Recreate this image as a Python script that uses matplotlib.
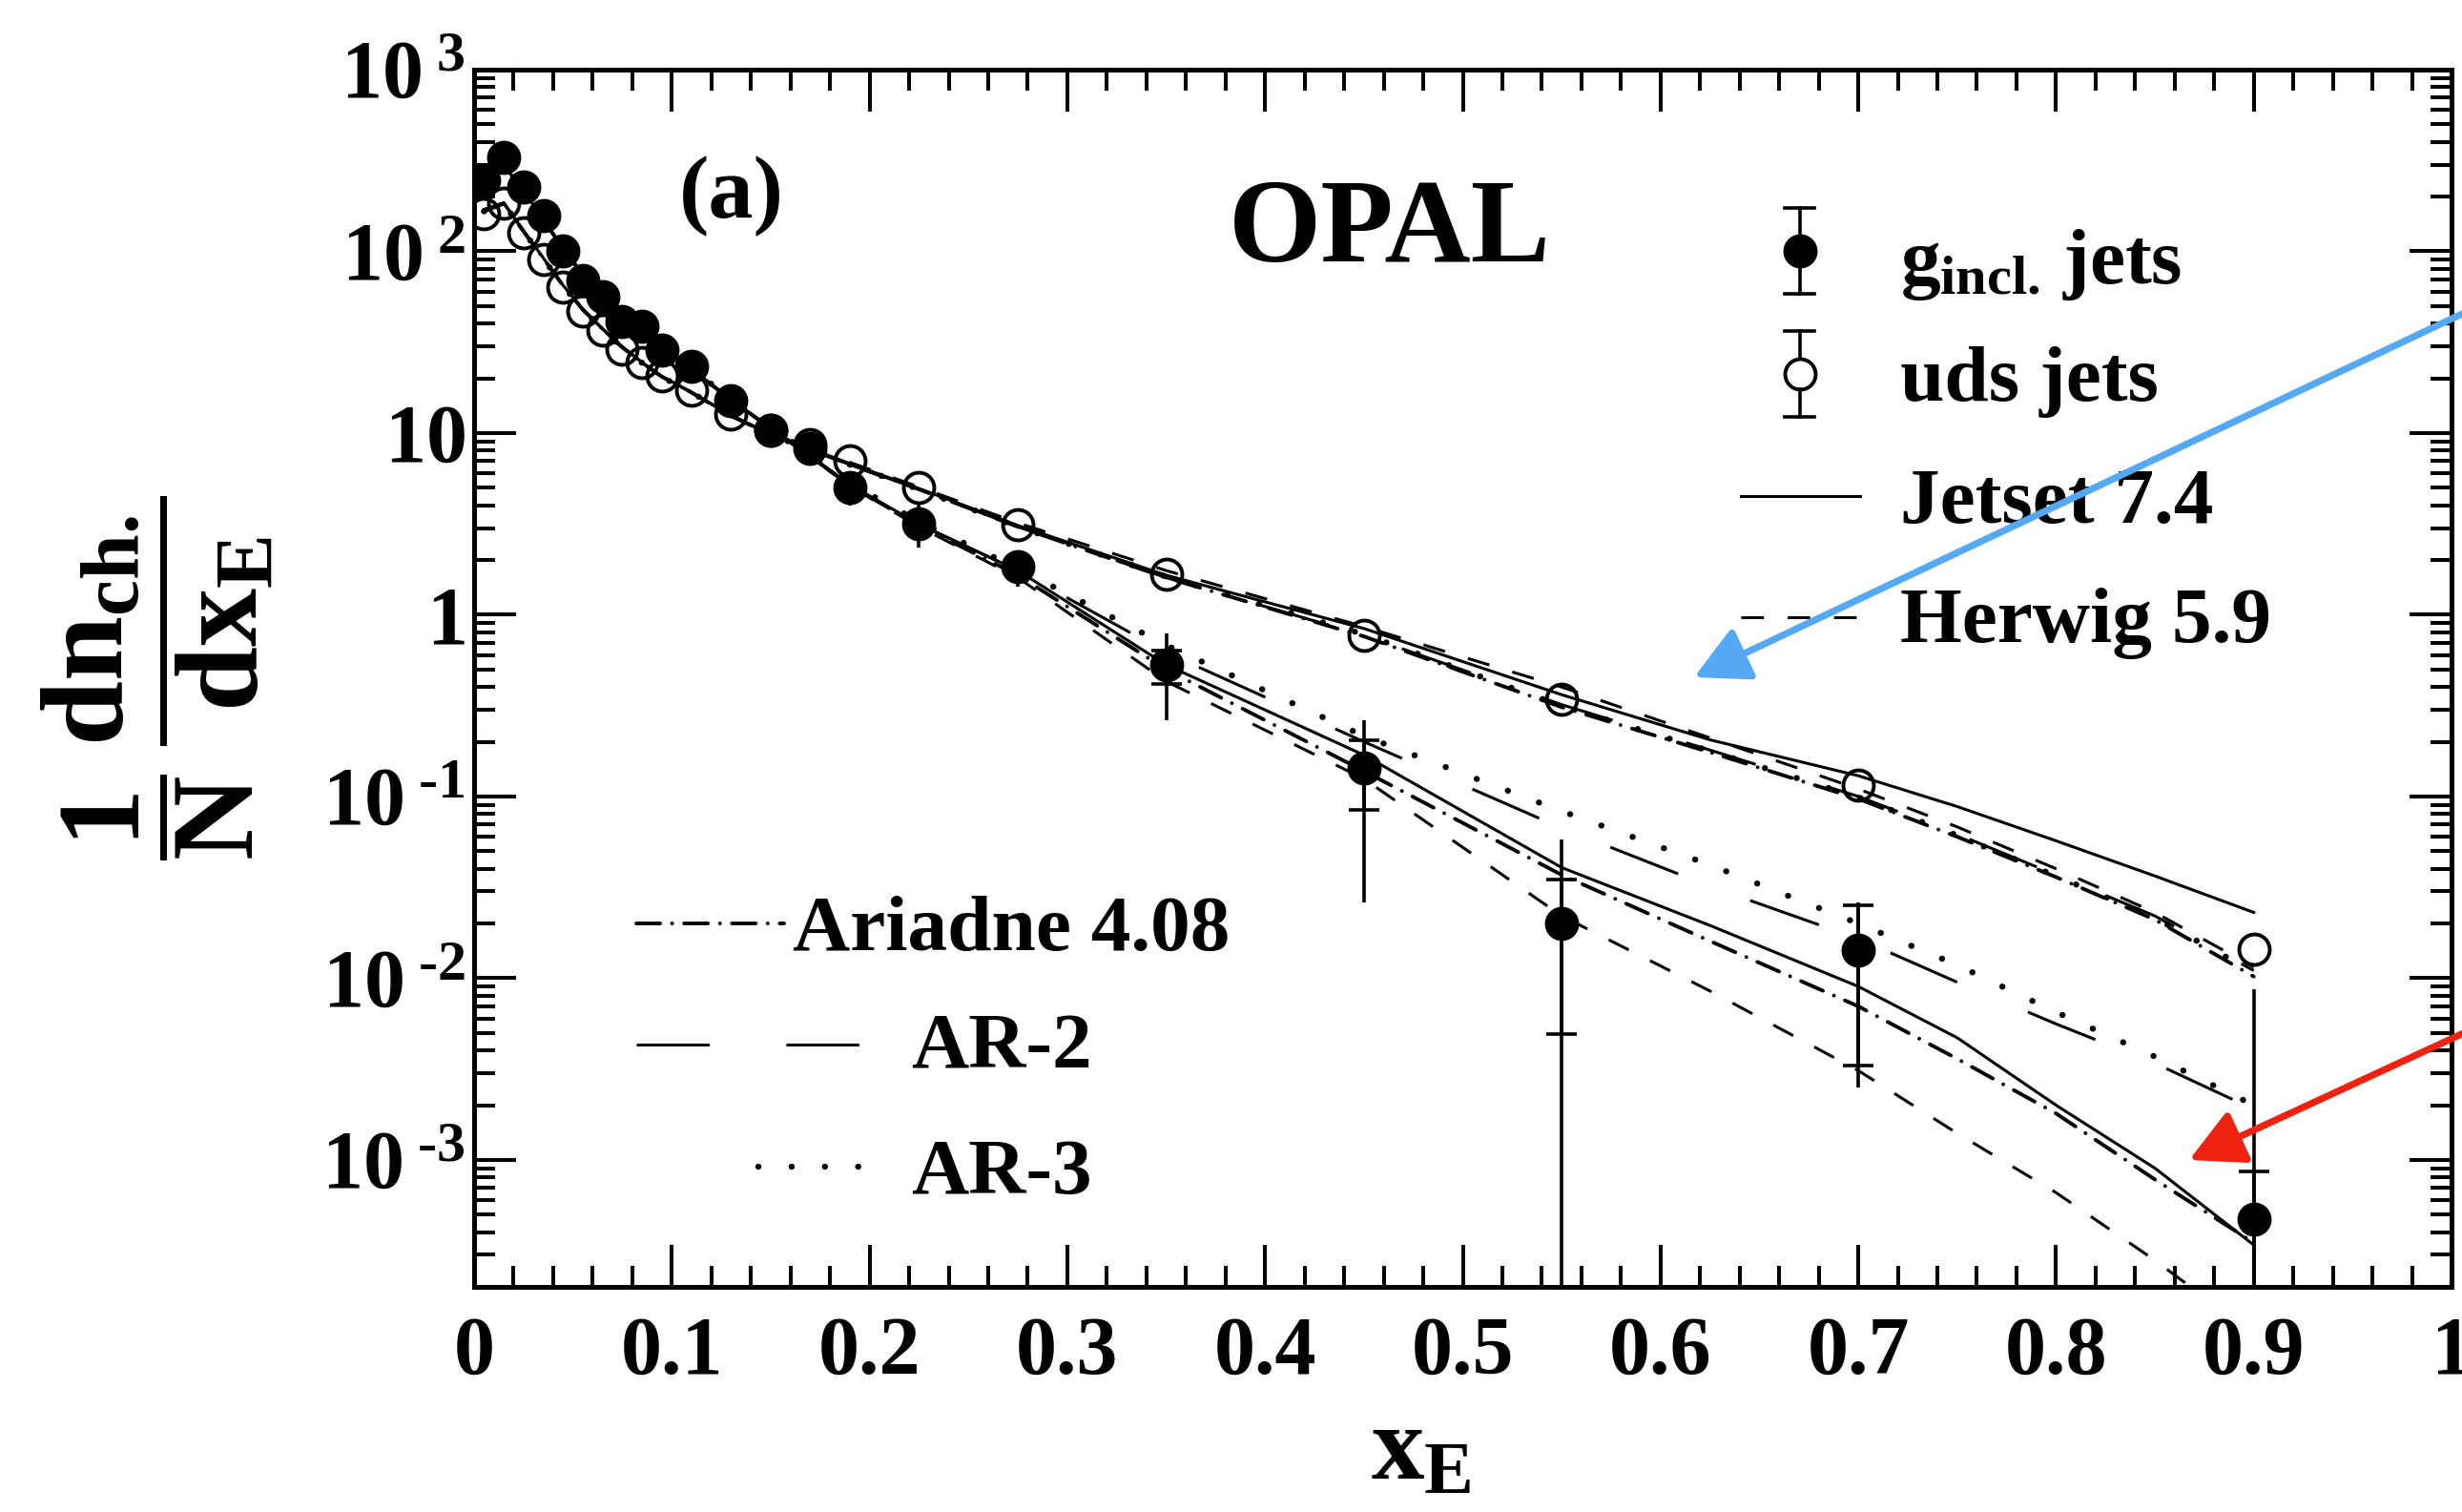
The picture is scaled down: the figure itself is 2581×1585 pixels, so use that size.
import matplotlib
matplotlib.use("Agg")
import matplotlib.pyplot as plt
import numpy as np
from matplotlib.ticker import MultipleLocator, LogLocator, FixedLocator, FuncFormatter, NullFormatter
from matplotlib.patches import FancyArrowPatch

plt.rcParams['font.family'] = ['Liberation Serif', 'DejaVu Serif']
plt.rcParams['font.weight'] = 'bold'
plt.rcParams['mathtext.fontset'] = 'custom'
plt.rcParams['mathtext.rm'] = 'Liberation Serif:bold'
plt.rcParams['mathtext.bf'] = 'Liberation Serif:bold'
plt.rcParams['mathtext.it'] = 'Liberation Serif:bold'
plt.rcParams['mathtext.sf'] = 'Liberation Serif:bold'
plt.rcParams['lines.scale_dashes'] = False

# ---------------- data ----------------
x_data = [0.005, 0.015, 0.025, 0.035, 0.045, 0.055, 0.065, 0.075, 0.085, 0.095,
          0.11, 0.13, 0.15, 0.17, 0.19, 0.225, 0.275, 0.35, 0.45, 0.55, 0.70, 0.90]

g_y = [247, 330, 225, 157, 100, 69.5, 56, 41.3, 38.9, 28.7,
       23.4, 15.0, 10.4, 8.2, 5.0, 3.18, 1.84, 0.528, 0.144, 0.0199, 0.0143, 4.7e-4]
g_err_tot = [12, 15, 10, 7, 5, 3.5, 3, 2.3, 2.2, 1.8,
             1.5, 1.0, 0.8, 0.7, 1.0, 0.85, 0.42, 0.265, 0.118, 0.038, 0.0118, 0.0082]
g_err_stat = [3, 4, 3, 2, 1.5, 1.2, 1, 0.8, 0.8, 0.6,
              0.5, 0.35, 0.3, 0.25, 0.2, 0.15, 0.12, 0.11, 0.06, 0.015, 0.011, 3.95e-4]

q_y = [162, 183, 127, 90.7, 63.8, 47.2, 37.0, 29.1, 24.3, 20.7,
       17.3, 12.8, 10.3, 8.6, 7.0, 5.0, 3.13, 1.67, 0.769, 0.342, 0.115, 0.0144]

x_model = [0.005, 0.015, 0.025, 0.035, 0.045, 0.055, 0.065, 0.075, 0.085, 0.095,
           0.11, 0.13, 0.15, 0.17, 0.19, 0.225, 0.275, 0.35, 0.45, 0.55,
           0.625, 0.70, 0.75, 0.80, 0.85, 0.90]

jetset_g = [235, 300, 215, 150, 104, 75, 57, 45, 36, 29.5,
            22.5, 15.3, 10.7, 7.5, 5.2, 3.15, 1.75, 0.53, 0.169, 0.0406,
            0.0195, 0.0090, 0.0047, 0.0020, 0.0009, 3.4e-4]
herwig_g = [225, 295, 212, 148, 103, 74, 56.5, 44.5, 35.5, 29,
            22.3, 15.2, 10.6, 7.4, 5.1, 3.05, 1.6, 0.43, 0.125, 0.022,
            0.0085, 0.0031, 0.0014, 6.6e-4, 2.8e-4, 1.1e-4]
ariadne_g = [230, 298, 214, 149, 104, 74.5, 57, 44.8, 35.8, 29.3,
             22.4, 15.2, 10.6, 7.45, 5.15, 3.1, 1.65, 0.50, 0.138, 0.037,
             0.016, 0.0070, 0.0036, 0.0018, 7.8e-4, 3.5e-4]
ar2_g = [228, 297, 213, 149, 103, 74, 56.8, 44.7, 35.7, 29.2,
         22.4, 15.3, 10.7, 7.5, 5.2, 3.15, 1.75, 0.62, 0.20, 0.067,
         0.032, 0.0165, 0.0095, 0.0056, 0.0034, 0.0019]
ar3_g = [226, 296, 213, 149, 103, 74, 56.8, 44.6, 35.7, 29.3,
         22.5, 15.4, 10.8, 7.6, 5.3, 3.25, 1.8, 0.68, 0.215, 0.083,
         0.042, 0.020, 0.0118, 0.0065, 0.0037, 0.0020]

jetset_q = [170, 185, 130, 92, 65, 48, 37.5, 29.8, 24.5, 20.5,
            16.8, 12.5, 9.9, 8.2, 6.8, 4.95, 3.1, 1.65, 0.84, 0.363,
            0.205, 0.13, 0.088, 0.057, 0.0365, 0.023]
herwig_q = [165, 182, 128, 91, 64.5, 47.5, 37.2, 29.5, 24.3, 20.3,
            16.7, 12.5, 10.0, 8.3, 6.9, 5.05, 3.2, 1.75, 0.86, 0.40,
            0.21, 0.11, 0.068, 0.040, 0.023, 0.0115]
ariadne_q = [168, 184, 129, 91.5, 64.8, 47.8, 37.3, 29.6, 24.4, 20.4,
             16.7, 12.4, 9.8, 8.1, 6.7, 4.9, 3.05, 1.6, 0.76, 0.31,
             0.175, 0.097, 0.060, 0.036, 0.021, 0.0102]
ar2_q = [167, 184, 129, 91.5, 64.8, 47.8, 37.3, 29.6, 24.4, 20.4,
         16.7, 12.4, 9.8, 8.1, 6.7, 4.9, 3.05, 1.6, 0.77, 0.32,
         0.18, 0.10, 0.062, 0.037, 0.022, 0.011]
ar3_q = [166, 183, 129, 91.3, 64.6, 47.7, 37.2, 29.5, 24.3, 20.3,
         16.7, 12.4, 9.8, 8.1, 6.7, 4.9, 3.05, 1.62, 0.78, 0.315,
         0.178, 0.099, 0.061, 0.0365, 0.0215, 0.0108]

y_ticks = [1e-3, 1e-2, 1e-1, 1, 10, 100, 1000]

# ---------------- styles ----------------
LW = 2.2
ELW = 2.6
MS = 23
MEW = 2.8
styles = {
    'jetset': dict(ls='-', lw=LW),
    'herwig': dict(ls=(0, (17, 18)), lw=LW),
    'ariadne': dict(ls=(0, (18, 9, 0.1, 9)), lw=2.8, dash_capstyle='round'),
    'ar2': dict(ls=(0, (55, 58)), lw=LW),
    'ar3': dict(ls=(0, (0.1, 25)), lw=4.6, dash_capstyle='round'),
}

fig = plt.figure(figsize=(25.81, 15.85), dpi=100)
ax = fig.add_axes([0.19256, 0.14890, 0.80318, 0.80505])
ax.set_yscale('log')
ax.set_xlim(0, 1)
ax.set_ylim(2e-4, 1e3)

for key, yg, yq in [('jetset', jetset_g, jetset_q), ('herwig', herwig_g, herwig_q),
                    ('ariadne', ariadne_g, ariadne_q), ('ar2', ar2_g, ar2_q),
                    ('ar3', ar3_g, ar3_q)]:
    ax.plot(x_model, yg, color='k', zorder=2, **styles[key])
    ax.plot(x_model, yq, color='k', zorder=2, **styles[key])

# error bars: total (no caps) + statistical (with caps)
ax.errorbar(x_data, g_y, yerr=g_err_tot, fmt='none', ecolor='k', elinewidth=ELW, capsize=0, zorder=3)
ax.errorbar(x_data, g_y, yerr=g_err_stat, fmt='none', ecolor='k', elinewidth=ELW,
            capsize=11.5, capthick=ELW, zorder=3)
ax.plot(x_data, q_y, ls='none', marker='o', ms=MS, mfc='none', mec='k', mew=MEW, zorder=4)
ax.plot(x_data, g_y, ls='none', marker='o', ms=MS, mfc='k', mec='k', mew=MEW, zorder=5)

# ---------------- axes styling ----------------
for s in ax.spines.values():
    s.set_linewidth(3.6)
ax.xaxis.set_major_locator(MultipleLocator(0.1))
ax.xaxis.set_minor_locator(MultipleLocator(0.02))
ax.yaxis.set_major_locator(FixedLocator(y_ticks))
ax.yaxis.set_minor_locator(LogLocator(base=10, subs=[2, 3, 4, 5, 6, 7, 8, 9], numticks=30))
ax.yaxis.set_minor_formatter(NullFormatter())
ax.tick_params(which='both', direction='in', top=True, right=True, width=2.9)
ax.tick_params(which='major', length=32)
ax.tick_params(which='minor', length=16)
ax.tick_params(axis='x', which='major', labelsize=62, pad=22)
ax.tick_params(axis='y', which='major', labelsize=62, pad=6.5)


def xfmt(v, pos):
    if abs(v) < 1e-9:
        return '0'
    if abs(v - 1) < 1e-9:
        return '1'
    return '%.1f' % v


def yfmt(v, pos):
    e = int(round(np.log10(v)))
    if e == 0:
        return r'$1\enspace\,$'
    if e == 1:
        return r'$10\enspace\,$'
    if e < 0:
        return r'$10^{\;\text{-}%d}$' % (-e)
    return r'$10^{\;%d}$' % e


ax.xaxis.set_major_formatter(FuncFormatter(xfmt))
ax.yaxis.set_major_formatter(FuncFormatter(yfmt))

ax.set_xlabel(r'$x_{E}$', fontsize=80, va='center')
ax.xaxis.set_label_coords(0.479, -0.137)
ax.set_ylabel(r'$\dfrac{1}{N}\,\dfrac{dn_{ch.}}{dx_{E}}$', fontsize=88, va='center')
ax.yaxis.set_label_coords(-0.160, 0.5)

# ---------------- texts ----------------
ax.text(0.13, 0.896, '(a)', transform=ax.transAxes, fontsize=68, ha='center', va='center')
ax.text(0.463, 0.866, 'OPAL', transform=ax.transAxes, fontsize=90, ha='center', va='center')


# upper-right legend (manual keys)
def legend_point(fx, fy, filled):
    half = 0.0353
    r = 0.0 if filled else 0.0125
    capw = 0.0075
    kw = dict(color='k', lw=ELW, transform=ax.transAxes, clip_on=False, zorder=6)
    ax.plot([fx, fx], [fy + r, fy + half], **kw)
    ax.plot([fx, fx], [fy - half, fy - r], **kw)
    for yy in (fy - half, fy + half):
        ax.plot([fx - capw, fx + capw], [yy, yy], **kw)
    ax.plot([fx], [fy], marker='o', ms=MS, mec='k', mew=MEW, mfc='k' if filled else 'none',
            ls='none', transform=ax.transAxes, clip_on=False, zorder=7)


def legend_line(x0, x1, fy, key):
    ax.plot([x0, x1], [fy, fy], color='k', transform=ax.transAxes, clip_on=False, zorder=6,
            **styles[key])


legend_point(0.6705, 0.851, True)
legend_point(0.6705, 0.750, False)
legend_line(0.6406, 0.7009, 0.650, 'jetset')
legend_line(0.6406, 0.7009, 0.550, 'herwig')
tx = 0.7212
ax.text(tx, 0.8245, r'$g_{incl.}\,$jets', transform=ax.transAxes, fontsize=60, va='baseline')
ax.text(tx, 0.728, 'uds jets', transform=ax.transAxes, fontsize=60, va='baseline')
ax.text(tx, 0.6277, 'Jetset 7.4', transform=ax.transAxes, fontsize=60, va='baseline')
ax.text(tx, 0.5298, 'Herwig 5.9', transform=ax.transAxes, fontsize=60, va='baseline')

# lower-left legend
legend_line(0.082, 0.157, 0.2986, 'ariadne')
legend_line(0.082, 0.196, 0.199, 'ar2')
legend_line(0.1438, 0.196, 0.0987, 'ar3')
ax.text(0.161, 0.2767, 'Ariadne 4.08', transform=ax.transAxes, fontsize=60, va='baseline')
ax.text(0.221, 0.180, 'AR-2', transform=ax.transAxes, fontsize=60, va='baseline')
ax.text(0.221, 0.0768, 'AR-3', transform=ax.transAxes, fontsize=60, va='baseline')

# ---------------- arrows (overlay annotations) ----------------
blue = '#55A8F4'
red = '#EE2211'
for tail, tip, col in [((1.0074, 0.7981), (0.6881, 0.5521), blue),
                       ((1.0074, 0.3218), (0.8892, 0.2328), red)]:
    arr = FancyArrowPatch(posA=tail, posB=tip, transform=fig.transFigure,
                          arrowstyle='-|>,head_length=2.3,head_width=1.2', mutation_scale=15,
                          color=col, lw=5.2, shrinkA=0, shrinkB=0, zorder=10)
    fig.add_artist(arr)

fig.savefig('out.png', dpi=100)
